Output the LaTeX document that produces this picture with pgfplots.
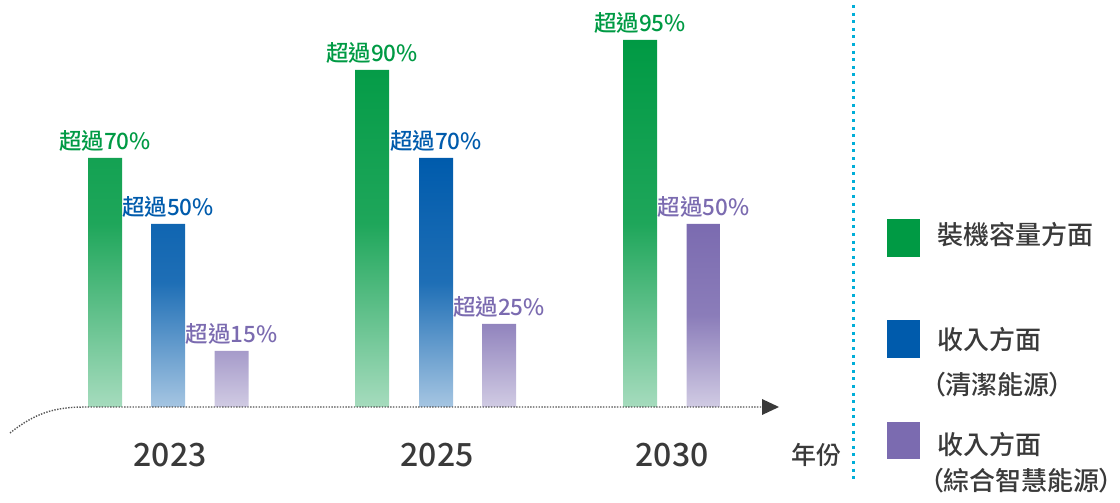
\documentclass[border=0pt]{standalone}
\usepackage{pgfplots}
\pgfplotsset{compat=1.18}
\usepackage{fontspec}
\IfFontExistsTF{Noto Sans CJK TC Medium}
  {\setmainfont{Noto Sans CJK TC Medium}
   \newfontfamily\cjkp[RawFeature=+palt]{Noto Sans CJK TC Medium}}
  {\setmainfont{Noto Sans CJK TC}
   \newfontfamily\cjkp[RawFeature=+palt]{Noto Sans CJK TC}}

\definecolor{cg}{HTML}{009A44}
\definecolor{cb}{HTML}{005BAC}
\definecolor{cp}{HTML}{7B6BB0}
\definecolor{txt}{HTML}{3A3A3A}
\definecolor{axl}{HTML}{555555}
\definecolor{cyn}{HTML}{00AED8}

% bar heights (baseline = 0), labels as meta
\pgfplotsset{
  gradbar/.style={ybar, bar width=34, bar shift=0pt, draw=none,
    top color=#1, bottom color=#1!35!white, middle color=#1!88!white,
    nodes near coords, point meta=explicit symbolic,
    every node near coord/.append style={anchor=base, yshift=8bp, inner sep=0pt,
      text=#1, font=\fontsize{22.5bp}{26bp}\selectfont}},
}

\begin{document}
\begin{tikzpicture}
\begin{axis}[
    scale only axis,
    width=1120bp, height=503bp,
    xmin=0, xmax=1120,
    ymin=-96, ymax=407,
    hide axis,
    clip=false,
  ]
  \path (axis cs:0,-96) rectangle (axis cs:1120,407);

  % green: installed capacity
  \addplot[gradbar=cg] coordinates {
    (105,249) [超過70\%]
    (372,337) [超過90\%]
    (640,367) [超過95\%]
  };
  % blue: revenue, clean energy
  \addplot[gradbar=cb] coordinates {
    (168,183) [超過50\%]
    (436,249) [超過70\%]
  };
  % purple: revenue, integrated smart energy
  \addplot[gradbar=cp] coordinates {
    (231.5,56) [超過15\%]
    (499,83) [超過25\%]
    (703.5,183) [超過50\%]
  };

  % baseline arrow
  \draw[axl, line width=1.4bp, dash pattern=on 1.4bp off 1.4bp]
    (axis cs:10,-26) .. controls (axis cs:35,-6) and (axis cs:55,0) .. (axis cs:85,0)
    -- (axis cs:764,0);
  \fill[txt] (axis cs:762,8) -- (axis cs:779,0) -- (axis cs:762,-8) -- cycle;

  % years
  \node[text=txt, font=\fontsize{32bp}{36bp}\selectfont] at (axis cs:170,-48) {2023};
  \node[text=txt, font=\fontsize{32bp}{36bp}\selectfont] at (axis cs:437,-48) {2025};
  \node[text=txt, font=\fontsize{32bp}{36bp}\selectfont] at (axis cs:672,-48) {2030};
  \node[text=txt, font=\fontsize{25bp}{30bp}\selectfont] at (axis cs:816,-48) {年份};

  % separator
  \draw[cyn, line width=3bp, dash pattern=on 3bp off 4.6bp] (axis cs:853,402) -- (axis cs:853,-73);

  % legend
  \fill[cg] (axis cs:887,188) rectangle (axis cs:920,150);
  \fill[cb] (axis cs:887,87) rectangle (axis cs:920,49);
  \fill[cp] (axis cs:887,-15) rectangle (axis cs:920,-52);
  \begin{scope}[every node/.style={anchor=west, inner sep=0pt, text=txt,
      font=\fontsize{26bp}{30bp}\selectfont}]
    \node at (axis cs:937,172) {裝機容量方面};
    \node at (axis cs:937,67) {收入方面};
    \node at (axis cs:932,22) {{\cjkp （}清潔能源{\cjkp ）}};
    \node at (axis cs:937,-38) {收入方面};
    \node at (axis cs:930,-74) {{\cjkp （}綜合智慧能源{\cjkp ）}};
  \end{scope}
\end{axis}
\end{tikzpicture}
\end{document}
